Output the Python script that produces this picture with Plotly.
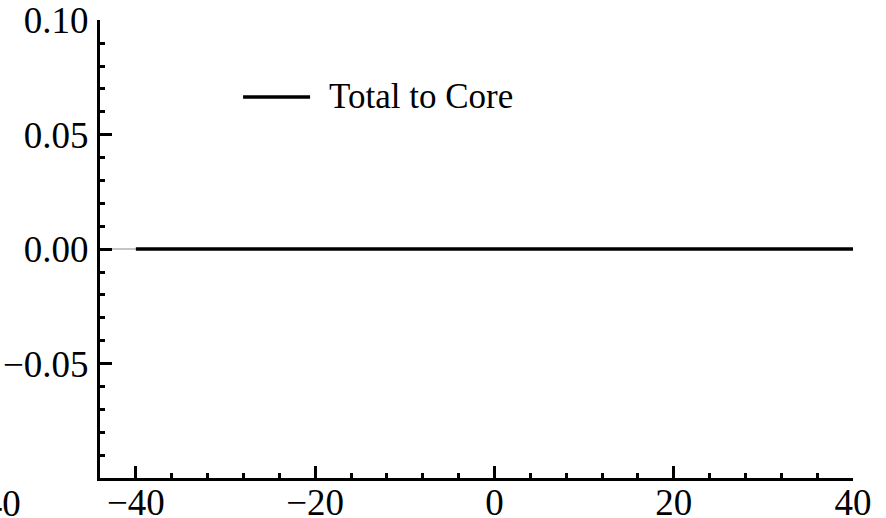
import numpy as np
import plotly.graph_objects as go

# ---- data ----
series_name = "Total to Core"
x_main = [-40, 40]
y_main = [0.0, 0.0]
x_lead = [-44, -40]
y_lead = [0.0, 0.0]

x_tick_vals = [-40, -20, 0, 20, 40]
x_tick_text = ["\u221240", "\u221220", "0", "20", "40"]
y_tick_vals = [-0.05, 0.0, 0.05, 0.10]
y_tick_text = ["\u22120.05", "0.00", "0.05", "0.10"]

x_range = [-44, 40]
y_range = [-0.1, 0.1001]

FONT = "Liberation Serif"
FS_TICK = 37
FS_LEG = 35

x_minor = [v for v in np.arange(-44, 40.001, 4) if round(v) % 20 != 0]
y_minor = [round(v, 2) for v in np.arange(-0.1, 0.1001, 0.01) if abs(round(v * 100)) % 5 != 0]

fig = go.Figure()
fig.add_trace(go.Scatter(x=x_lead, y=y_lead, mode="lines",
                         line=dict(color="#b0b0b0", width=1.5),
                         showlegend=False, hoverinfo="skip"))
fig.add_trace(go.Scatter(x=x_main, y=y_main, mode="lines", name=series_name,
                         line=dict(color="black", width=3.5), showlegend=False))

axis_common = dict(showgrid=False, zeroline=False, showline=True, linecolor="black",
                   linewidth=3, ticks="inside", tickcolor="black", tickwidth=3,
                   ticklen=12, automargin=False, ticklabeloverflow="allow",
                   tickfont=dict(family=FONT, size=FS_TICK, color="black"))

fig.update_xaxes(range=x_range, tickmode="array", tickvals=x_tick_vals,
                 ticktext=x_tick_text, ticklabelstandoff=-10,
                 minor=dict(tickmode="array", tickvals=x_minor, ticks="inside",
                            ticklen=5, tickwidth=3, tickcolor="black"),
                 **axis_common)
fig.update_yaxes(range=y_range, tickmode="array", tickvals=y_tick_vals,
                 ticktext=y_tick_text, ticklabelstandoff=1,
                 minor=dict(tickmode="array", tickvals=y_minor, ticks="inside",
                            ticklen=5, tickwidth=3, tickcolor="black"),
                 **axis_common)

# legend (manual)
fig.add_shape(type="line", xref="paper", yref="paper",
              x0=0.190, x1=0.279, y0=0.832, y1=0.832,
              line=dict(color="black", width=3.5))
fig.add_annotation(xref="paper", yref="paper", x=0.301, y=0.832,
                   xanchor="left", yanchor="middle", showarrow=False,
                   text=series_name, font=dict(family=FONT, size=FS_LEG, color="black"))

# clipped fragment of a neighbouring label at left edge
fig.add_annotation(xref="paper", yref="paper", x=-0.102, y=-0.056,
                   xanchor="right", yanchor="middle", showarrow=False,
                   text="\u221240", font=dict(family=FONT, size=FS_TICK, color="black"))

fig.update_layout(width=886, height=518, margin=dict(l=100, r=33, t=20, b=40),
                  plot_bgcolor="white", paper_bgcolor="white",
                  font=dict(family=FONT, size=FS_TICK, color="black"))

fig.write_html("out.html")
